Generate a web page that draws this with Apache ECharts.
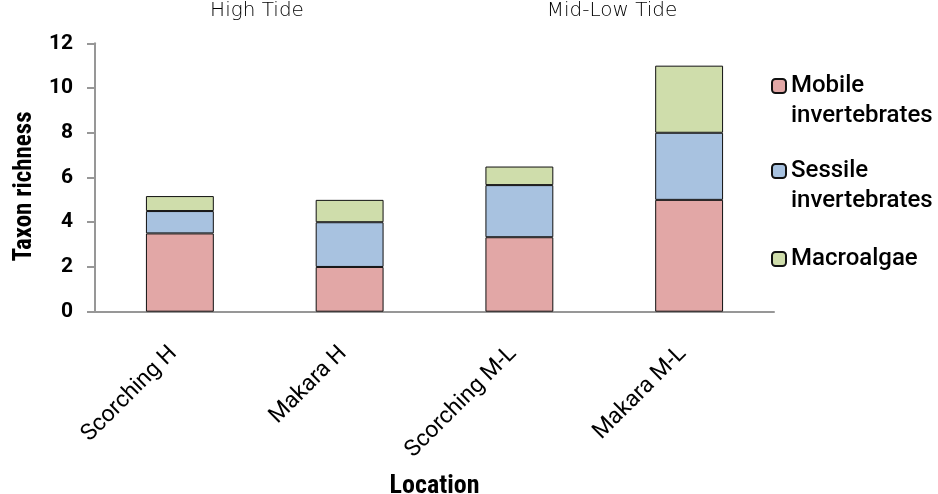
<!DOCTYPE html>
<html>
<head>
<meta charset="utf-8">
<script src="https://cdn.jsdelivr.net/npm/echarts@6/dist/echarts.min.js"></script>
<style>html,body{margin:0;padding:0;background:#fff}#c{width:938px;height:494px}</style>
</head>
<body>
<div id="c"></div>
<script>
var categories = ['Scorching H', 'Makara H', 'Scorching M-L', 'Makara M-L'];
var seriesNames = ['Mobile invertebrates', 'Sessile invertebrates', 'Macroalgae'];
var mobile = [3.5, 2, 3.33, 5];
var sessile = [1, 2, 2.33, 3];
var macroalgae = [0.67, 1, 0.83, 3];
var yTicks = [0, 2, 4, 6, 8, 10, 12];
var tideLabels = ['High Tide', 'Mid-Low Tide'];
var yTitle = 'Taxon richness';
var xTitle = 'Location';

var colors = ['#E2A7A6', '#A8C2E0', '#CFDDAB'];
var boldFont = "'Liberation Sans Narrow', 'Roboto Condensed', Roboto, sans-serif";
var values = [mobile, sessile, macroalgae];
var legendTops = [41, 126, 244];

var chart = echarts.init(document.getElementById('c'), null, {renderer: 'canvas'});
var series = seriesNames.map(function (n, i) {
  return {
    name: n, type: 'bar', stack: 'total', data: values[i], barWidth: '40%',
    itemStyle: {color: colors[i], borderColor: '#111', borderWidth: 1},
    emphasis: {disabled: true}
  };
});
var legends = seriesNames.map(function (n, i) {
  return {
    orient: 'vertical', left: 771, top: legendTops[i], padding: 0,
    itemWidth: 14, itemHeight: 14, selectedMode: false,
    data: [n],
    formatter: function (name) {
      var parts = name.split(' ');
      if (parts.length > 1) return '{p|}\n{t|' + parts.join('}\n{t|') + '}';
      return '{t|' + name + '}';
    },
    textStyle: {
      fontFamily: 'Roboto', fontWeight: 500, fontSize: 24, lineHeight: 30, color: '#000',
      rich: {
        p: {fontSize: 1, lineHeight: 30},
        t: {fontFamily: 'Roboto', fontWeight: 500, fontSize: 24, lineHeight: 30, color: '#000'}
      }
    }
  };
});
chart.setOption({
  animation: false,
  grid: {left: 95, right: 164, top: 43.3, bottom: 182.3, containLabel: false, outerBoundsMode: 'none'},
  xAxis: {
    type: 'category', data: categories,
    axisLine: {lineStyle: {color: '#979797', width: 2}},
    axisTick: {show: false},
    axisLabel: {rotate: 45, margin: 32, padding: [0, 9, 0, 0], color: '#000', fontSize: 23, fontFamily: 'Roboto', interval: 0},
    name: xTitle, nameLocation: 'middle', nameGap: 162,
    nameTextStyle: {fontFamily: boldFont, fontWeight: 'bold', fontSize: 26, color: '#000'}
  },
  yAxis: {
    type: 'value', min: yTicks[0], max: yTicks[yTicks.length - 1], interval: yTicks[1] - yTicks[0],
    axisLine: {show: true, lineStyle: {color: '#979797', width: 2}},
    axisTick: {show: true, length: 8, lineStyle: {color: '#979797', width: 2}},
    splitLine: {show: false},
    axisLabel: {margin: 22, color: '#000', fontSize: 21, fontWeight: 'bold', fontFamily: 'Roboto'},
    name: yTitle, nameLocation: 'middle', nameGap: 58,
    nameTextStyle: {fontFamily: boldFont, fontWeight: 'bold', fontSize: 25, color: '#000', padding: [0, 18, 0, 0]}
  },
  legend: legends,
  graphic: [
    {type: 'text', x: 257, y: 11, style: {text: tideLabels[0], fill: '#000', font: "300 20px 'DejaVu Sans'", align: 'center', verticalAlign: 'middle'}},
    {type: 'text', x: 612, y: 11, style: {text: tideLabels[1], fill: '#000', font: "300 20px 'DejaVu Sans'", align: 'center', verticalAlign: 'middle'}}
  ],
  series: series
});
</script>
</body>
</html>
